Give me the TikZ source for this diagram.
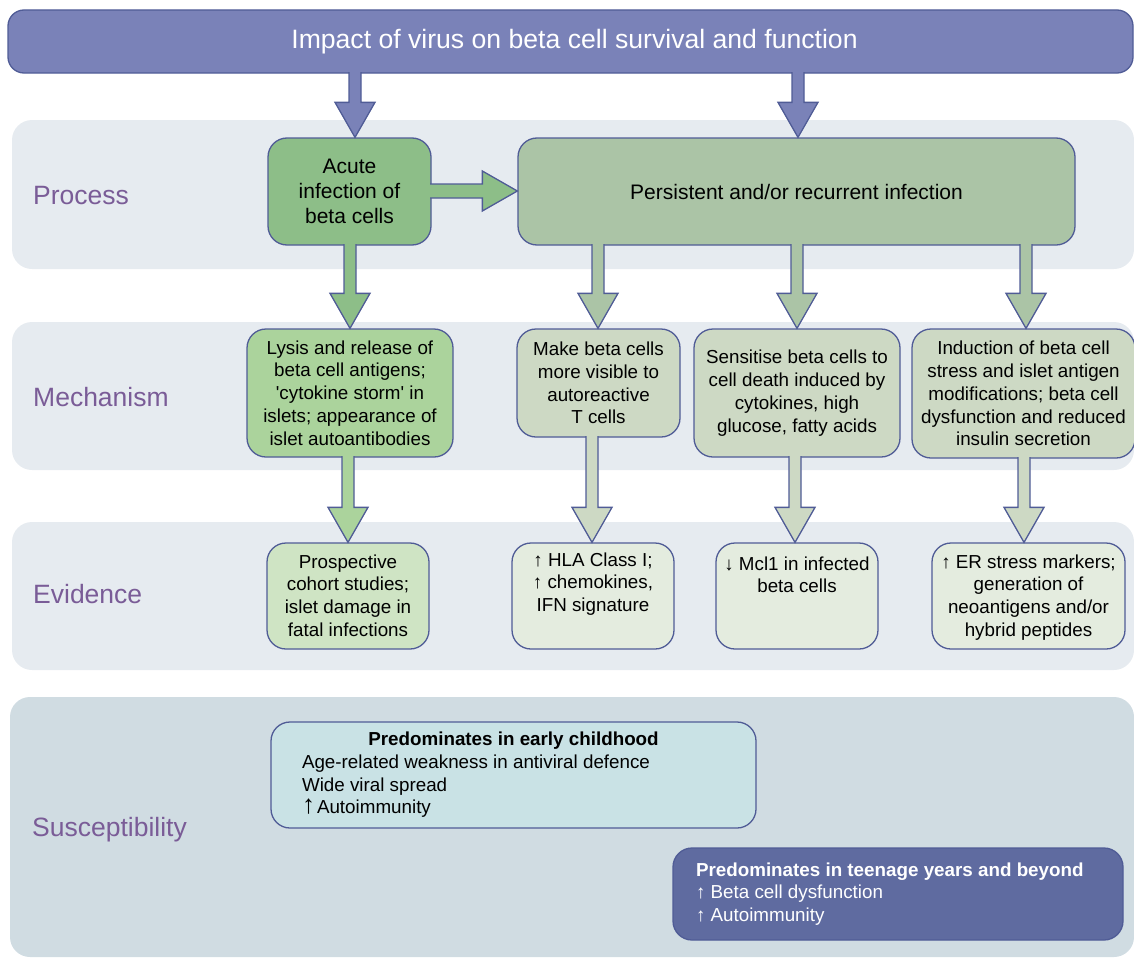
\documentclass[tikz,border=0pt]{standalone}
\usepackage{fontspec}
\setmainfont{Liberation Sans}
\usetikzlibrary{calc}
\definecolor{bordercol}{RGB}{80,92,150}
\definecolor{bannerfill}{RGB}{122,130,184}
\definecolor{bandfill}{RGB}{230,235,240}
\definecolor{suscfill}{RGB}{208,220,226}
\definecolor{acutefill}{RGB}{141,190,136}
\definecolor{persfill}{RGB}{171,196,166}
\definecolor{lysisfill}{RGB}{171,211,156}
\definecolor{mechfill}{RGB}{205,217,196}
\definecolor{prosfill}{RGB}{207,228,196}
\definecolor{evfill}{RGB}{228,236,223}
\definecolor{childfill}{RGB}{201,226,229}
\definecolor{teenfill}{RGB}{95,107,160}
\definecolor{labelcol}{RGB}{122,92,151}
\newcommand{\blkdown}[4]{%
  \filldraw[arrowline, fill=#4] let \p1=(#1.south), \p2=(#2.north) in
    ({#3pt-6pt},{\y1+1.5pt}) -- ({#3pt-6pt},{\y2+35pt}) -- ({#3pt-20pt},{\y2+35pt})
    -- ({#3pt},{\y2}) -- ({#3pt+20pt},{\y2+35pt}) -- ({#3pt+6pt},{\y2+35pt})
    -- ({#3pt+6pt},{\y1+1.5pt});}
\newcommand{\blkright}[4]{%
  \filldraw[arrowline, fill=#4] let \p1=(#1.east), \p2=(#2.west) in
    ({\x1-1.5pt},{-#3pt+7pt}) -- ({\x2-35pt},{-#3pt+7pt}) -- ({\x2-35pt},{-#3pt+20pt})
    -- (\x2,{-#3pt}) -- ({\x2-35pt},{-#3pt-20pt}) -- ({\x2-35pt},{-#3pt-7pt})
    -- ({\x1-1.5pt},{-#3pt-7pt});}
\begin{document}
\begin{tikzpicture}[x=1pt,y=-1pt,
  arrowline/.style={draw=bordercol, line width=1.3pt, line join=miter},
  box/.style={draw=bordercol, line width=1.3pt, rounded corners=19pt, inner sep=0pt, align=center},
  procfont/.style={font=\fontsize{21}{25}\selectfont},
  mechfont/.style={font=\fontsize{18.8}{22.8}\selectfont},
  bandlabel/.style={anchor=west, inner sep=0pt, text=labelcol, font=\fontsize{26.5}{30}\selectfont}]
\useasboundingbox (0,0) rectangle (1134,958);
% bands
\fill[bandfill, rounded corners=20pt] (12,120) rectangle (1134,269);
\fill[bandfill, rounded corners=20pt] (12,322) rectangle (1134,470);
\fill[bandfill, rounded corners=20pt] (12,522) rectangle (1134,670);
\fill[suscfill, rounded corners=20pt] (10,697) rectangle (1134,957);
% banner
\node[box, rounded corners=16pt, fill=bannerfill, text=white, minimum width=1125pt, minimum height=63pt,
  font=\fontsize{26.6}{30}\selectfont] (banner) at (570.5,41.5) {\hspace*{8pt}Impact of virus on beta cell survival and function};
% process
\node[box, procfont, fill=acutefill, minimum width=163pt, minimum height=107pt] (acute) at (349.5,191.5)
  {Acute\\infection of\\beta cells};
\node[box, procfont, fill=persfill, minimum width=557pt, minimum height=107pt] (persist) at (796.5,191.5)
  {Persistent and/or recurrent infection};
% mechanism
\node[box, mechfont, fill=lysisfill, minimum width=206pt, minimum height=128pt] (lysis) at (350,393)
  {Lysis and release of\\beta cell antigens;\\\textquotesingle cytokine storm\textquotesingle{} in\\islets; appearance of\\islet autoantibodies};
\node[box, mechfont, fill=mechfill, minimum width=163pt, minimum height=108pt] (make) at (598.5,383)
  {Make beta cells\\more visible to\\autoreactive\\T cells};
\node[box, mechfont, fill=mechfill, minimum width=206pt, minimum height=128pt] (sens) at (797,393)
  {Sensitise beta cells to\\cell death induced by\\cytokines, high\\glucose, fatty acids};
\node[box, mechfont, fill=mechfill, minimum width=223pt, minimum height=129pt] (induc) at (1023.5,393.5)
  {Induction of beta cell\\stress and islet antigen\\modifications; beta cell\\dysfunction and reduced\\insulin secretion};
% evidence
\node[box, mechfont, fill=prosfill, minimum width=162pt, minimum height=106pt] (pros) at (348,596)
  {\parbox[c][106pt][t]{162pt}{\centering\rule{0pt}{25pt}Prospective\\cohort studies;\\islet damage in\\fatal infections}};
\node[box, mechfont, fill=evfill, minimum width=162pt, minimum height=106pt] (hla) at (593,596)
  {\parbox[c][106pt][t]{162pt}{\centering\rule{0pt}{23pt}↑ HLA Class I;\\↑ chemokines,\\IFN signature}};
\node[box, mechfont, fill=evfill, minimum width=162pt, minimum height=106pt] (mcl) at (797,596)
  {\parbox[c][106pt][t]{162pt}{\centering\rule{0pt}{27pt}↓ Mcl1 in infected\\beta cells}};
\node[box, mechfont, fill=evfill, minimum width=193pt, minimum height=106pt] (er) at (1028.5,596)
  {\parbox[c][106pt][t]{193pt}{\centering\rule{0pt}{25pt}↑ ER stress markers;\\generation of\\neoantigens and/or\\hybrid peptides}};
% susceptibility
\node[box, fill=childfill, minimum width=485pt, minimum height=106pt, font=\fontsize{18.8}{22.6}\selectfont] (child) at (513.5,775)
  {\parbox{423pt}{\centering\textbf{Predominates in early childhood}\par\raggedright
   Age-related weakness in antiviral defence\par Wide viral spread\par
   \smash{\fontsize{26}{22.6}\selectfont\bfseries ↑}\hspace{2pt}Autoimmunity}};
\node[box, fill=teenfill, text=white, minimum width=450pt, minimum height=92pt, font=\fontsize{18.8}{22.6}\selectfont] (teen) at (898,894)
  {\parbox{404pt}{\raggedright\textbf{Predominates in teenage years and beyond}\par
   ↑ Beta cell dysfunction\par ↑ Autoimmunity}};
% arrows
\blkdown{banner}{acute}{355}{bannerfill}
\blkdown{banner}{persist}{798}{bannerfill}
\blkright{acute}{persist}{191}{acutefill}
\blkdown{acute}{lysis}{350}{acutefill}
\blkdown{persist}{make}{598}{persfill}
\blkdown{persist}{sens}{797}{persfill}
\blkdown{persist}{induc}{1026}{persfill}
\blkdown{lysis}{pros}{348}{lysisfill}
\blkdown{make}{hla}{592}{mechfill}
\blkdown{sens}{mcl}{795}{mechfill}
\blkdown{induc}{er}{1024}{mechfill}
% labels
\node[bandlabel] (lproc) at (33,196) {Process};
\node[bandlabel] (lmech) at (33,397) {Mechanism};
\node[bandlabel] (levid) at (33,594) {Evidence};
\node[bandlabel] (lsusc) at (32,830) {Susceptibility};
\end{tikzpicture}
\end{document}
